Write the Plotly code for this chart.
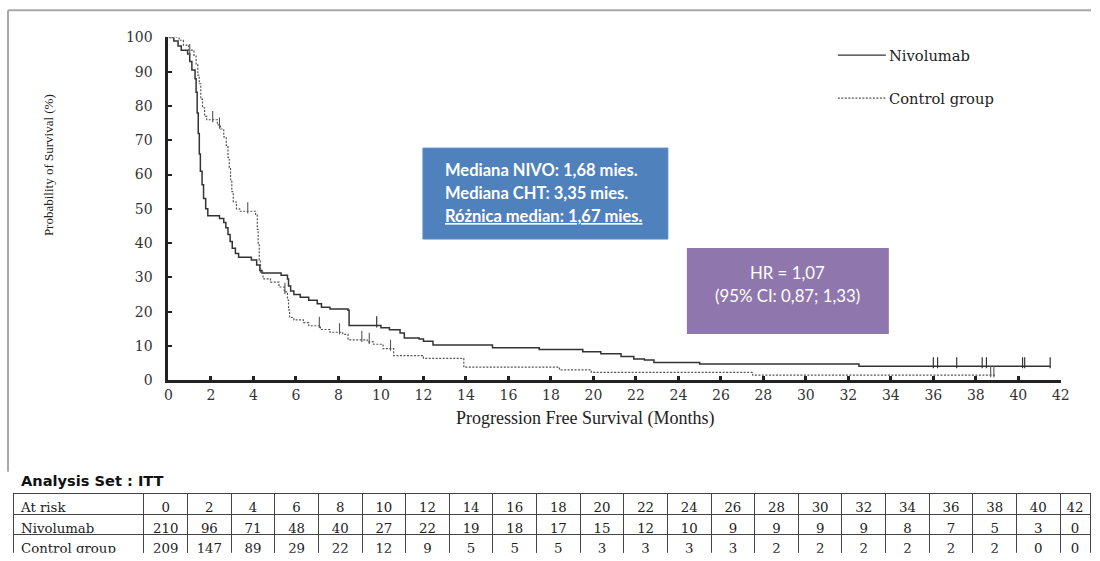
import plotly.graph_objects as go

# ---------------- data ----------------
nivo_t = [0, 0.25, 0.45, 0.6, 0.9, 1.0, 1.1, 1.25, 1.3, 1.35, 1.4, 1.45, 1.5, 1.58, 1.65, 1.75, 1.85,
          2.4, 2.6, 2.7, 2.8, 2.9, 3.0, 3.15, 3.3, 3.9, 4.15, 4.3, 4.4, 5.3, 5.6, 5.65, 5.75, 5.9,
          6.2, 6.6, 7.0, 7.2, 7.6, 8.45, 8.5, 10.0, 10.4, 10.9, 11.1, 11.8, 12.0, 12.45, 15.25,
          17.45, 19.5, 20.35, 21.3, 21.9, 22.4, 22.85, 25.0, 32.5, 41.5]
nivo_s = [100, 99, 97.5, 96.3, 95.2, 93, 90.5, 88, 84, 78, 72, 66, 61, 57, 53, 50, 48,
          47.2, 46, 44.5, 42.5, 40.5, 38.5, 37, 35.9, 35.1, 33.6, 32, 31.3, 30.6, 29.5, 27.5, 26, 25,
          24.2, 23.3, 22.3, 21.3, 20.8, 20.4, 16, 15.3, 14.7, 13.8, 12.3, 12, 11.4, 10.3, 9.5,
          9.0, 8.3, 7.7, 6.9, 6.2, 5.9, 5.2, 4.75, 4.1, 4.1]
nivo_cens_t = [9.8, 36.0, 36.2, 37.1, 38.3, 38.5, 40.2, 40.3, 41.5]
nivo_cens_s = [16, 4.1, 4.1, 4.1, 4.1, 4.1, 4.1, 4.1, 4.1]

ctrl_t = [0, 0.5, 0.7, 0.95, 1.2, 1.3, 1.38, 1.45, 1.52, 1.6, 1.7, 1.8, 2.3, 2.45, 2.6, 2.72, 2.8,
          2.86, 2.92, 2.98, 3.05, 3.2, 3.35, 4.1, 4.18, 4.22, 4.27, 4.33, 4.45, 4.8, 5.2, 5.45, 5.6,
          5.65, 5.7, 5.9, 6.35, 6.6, 7.15, 7.6, 8.2, 8.45, 9.35, 9.65, 10.1, 10.6, 12.0, 13.9, 18.4,
          19.9, 27.5, 38.9]
ctrl_s = [100, 99.2, 97.8, 96.3, 94.8, 92, 89, 86.5, 82, 79.5, 77, 76, 74.5, 73.3, 71, 68.5, 65,
          62, 58.5, 55, 52, 50, 49.3, 48.2, 44, 40, 35, 31.5, 29.6, 28.6, 27.2, 25.8, 23.4,
          20.5, 18.3, 17.6, 16.8, 15.9, 14.8, 14.0, 13.4, 11.8, 11.2, 10.5, 9.2, 7.2, 6.4, 3.8, 3.0,
          2.3, 1.5, 1.5]
ctrl_cens_t = [1.0, 2.08, 2.4, 3.73, 5.48, 7.1, 8.05, 9.1, 9.45, 10.45, 38.7, 38.85]
ctrl_cens_s = [95.5, 75.9, 74.0, 49.3, 25.8, 15.9, 14.0, 11.8, 11.2, 9.2, 1.5, 1.5]

x_ticks = list(range(0, 43, 2))
y_ticks = list(range(0, 101, 10))

risk_times = ["0", "2", "4", "6", "8", "10", "12", "14", "16", "18", "20", "22", "24", "26", "28",
              "30", "32", "34", "36", "38", "40", "42"]
risk_nivo = [210, 96, 71, 48, 40, 27, 22, 19, 18, 17, 15, 12, 10, 9, 9, 9, 9, 8, 7, 5, 3, 0]
risk_ctrl = [209, 147, 89, 29, 22, 12, 9, 5, 5, 5, 3, 3, 3, 3, 2, 2, 2, 2, 2, 2, 0, 0]
row_labels = ["At risk", "Nivolumab", "Control group"]

# ---------------- helpers ----------------
# Screen position (in the 1100x561 picture) -> paper coordinate of the figure,
# calibrated for the page margin and the scaling of the captured picture.
W, H = 1100, 561
OX, OY = 3, 8
SX, SY = 1 / 0.9884, 577 / 561
def px(r):
    return (r * SX - OX) / W
def py(r):
    return 1 - (r * SY - OY) / H

SERIF = "DejaVu Serif"
TIMES = "Liberation Serif"
TICK_LIFT = 1.0  # censor ticks drawn rising above the curve

fig = go.Figure()

fig.add_trace(go.Scatter(x=nivo_t, y=nivo_s, mode="lines", line=dict(shape="hv", color="#333333", width=1.5),
                         name="Nivolumab", showlegend=False, hoverinfo="skip"))
fig.add_trace(go.Scatter(x=ctrl_t, y=ctrl_s, mode="lines",
                         line=dict(shape="hv", color="#555555", width=1.2, dash="2px,1.5px"),
                         name="Control group", showlegend=False, hoverinfo="skip"))
fig.add_trace(go.Scatter(x=nivo_cens_t, y=[s + TICK_LIFT for s in nivo_cens_s], mode="markers",
                         marker=dict(symbol="line-ns", size=8, line=dict(width=1.2, color="#333333")),
                         showlegend=False, hoverinfo="skip"))
fig.add_trace(go.Scatter(x=ctrl_cens_t, y=[s + TICK_LIFT for s in ctrl_cens_s], mode="markers",
                         marker=dict(symbol="line-ns", size=8, line=dict(width=1.1, color="#555555")),
                         showlegend=False, hoverinfo="skip"))

# Table of numbers at risk
col_widths = [131] + [43.67] * 21 + [30]
header_vals = [row_labels[0]] + risk_times
cell_vals = [[row_labels[1], row_labels[2]]] + [[a, b] for a, b in zip(risk_nivo, risk_ctrl)]
fig.add_trace(go.Table(
    domain=dict(x=[px(12), 1.0], y=[0, py(494)]),
    columnwidth=col_widths,
    header=dict(values=header_vals, height=21, align=["left"] + ["center"] * 22,
                font=dict(family=SERIF, size=13.3, color="#222222"),
                fill_color="white", line=dict(color="#444444", width=1)),
    cells=dict(values=cell_vals, height=19.8, align=["left"] + ["center"] * 22,
               font=dict(family=SERIF, size=13.3, color="#222222"),
               fill_color="white", line=dict(color="#444444", width=1)),
))

shapes = []
annotations = []

# frame
shapes.append(dict(type="line", xref="paper", yref="paper", x0=px(7), x1=1, y0=py(10), y1=py(10),
                   line=dict(color="#A8A8A8", width=2)))
shapes.append(dict(type="line", xref="paper", yref="paper", x0=px(7), x1=px(7), y0=py(10), y1=py(472),
                   line=dict(color="#A8A8A8", width=2)))

# legend
shapes.append(dict(type="line", xref="paper", yref="paper", x0=px(837), x1=px(885), y0=py(55), y1=py(55),
                   line=dict(color="#333333", width=1.2)))
shapes.append(dict(type="line", xref="paper", yref="paper", x0=px(837), x1=px(885), y0=py(98), y1=py(98),
                   line=dict(color="#555555", width=1.1, dash="2px,1.5px")))
annotations.append(dict(xref="paper", yref="paper", x=px(886), y=py(55), xanchor="left", yanchor="middle",
                        text="Nivolumab", showarrow=False, font=dict(family=SERIF, size=14.7, color="#222222")))
annotations.append(dict(xref="paper", yref="paper", x=px(886), y=py(98), xanchor="left", yanchor="middle",
                        text="Control group", showarrow=False, font=dict(family=SERIF, size=14.7, color="#222222")))

# blue box
shapes.append(dict(type="rect", xref="paper", yref="paper", x0=px(422), x1=px(667), y0=py(239), y1=py(148),
                   fillcolor="#4F81BD", line=dict(color="#5B8BC6", width=1), layer="above"))
for yy, txt in [(170, "Mediana NIVO: 1,68 mies."), (193, "Mediana CHT: 3,35 mies."),
                (216, "<u>Różnica median: 1,67 mies.</u>")]:
    annotations.append(dict(xref="paper", yref="paper", x=px(442), y=py(yy), xanchor="left", yanchor="middle",
                            text=f"<b>{txt}</b>", showarrow=False,
                            font=dict(family="Lato", size=16.5, color="white")))

# purple box
shapes.append(dict(type="rect", xref="paper", yref="paper", x0=px(686), x1=px(888), y0=py(334), y1=py(248),
                   fillcolor="#8F77AD", line=dict(width=0), layer="above"))
for yy, txt in [(272, "HR = 1,07"), (296, "(95% CI: 0,87; 1,33)")]:
    annotations.append(dict(xref="paper", yref="paper", x=px(787), y=py(yy), xanchor="center", yanchor="middle",
                            text=txt, showarrow=False, font=dict(family="Lato", size=16.8, color="white")))

# axis titles
annotations.append(dict(xref="paper", yref="paper", x=px(584), y=py(419), xanchor="center", yanchor="middle",
                        text="Progression Free Survival (Months)", showarrow=False,
                        font=dict(family=TIMES, size=18, color="#222222")))
annotations.append(dict(xref="paper", yref="paper", x=px(47), y=py(165), xanchor="center", yanchor="middle",
                        text="Probability of Survival (%)", textangle=-90, showarrow=False,
                        font=dict(family=TIMES, size=13, color="#222222")))

# table title
annotations.append(dict(xref="paper", yref="paper", x=px(18), y=py(481), xanchor="left", yanchor="middle",
                        text="<b>Analysis Set : ITT</b>", showarrow=False,
                        font=dict(family="DejaVu Sans", size=14.6, color="#111111")))

fig.update_layout(
    width=W, height=H,
    margin=dict(l=0, r=0, t=0, b=0),
    paper_bgcolor="white", plot_bgcolor="white",
    shapes=shapes, annotations=annotations,
    showlegend=False,
    xaxis=dict(domain=[px(167.5), px(1060)], range=[0, 42], tickmode="array", tickvals=x_ticks,
               showgrid=False, zeroline=False, showline=True, linecolor="#222222", linewidth=3,
               ticks="inside", ticklen=4, tickwidth=3, tickcolor="#222222",
               tickfont=dict(family=SERIF, size=14, color="#333333"), fixedrange=True),
    yaxis=dict(domain=[py(380.3), py(37.3)], range=[0, 100], tickmode="array", tickvals=y_ticks,
               showgrid=False, zeroline=False, showline=True, linecolor="#222222", linewidth=3,
               ticks="inside", ticklen=4, tickwidth=2, tickcolor="#222222", ticklabelstandoff=10,
               tickfont=dict(family=SERIF, size=14, color="#333333"), fixedrange=True),
)

fig.write_html("out.html")
